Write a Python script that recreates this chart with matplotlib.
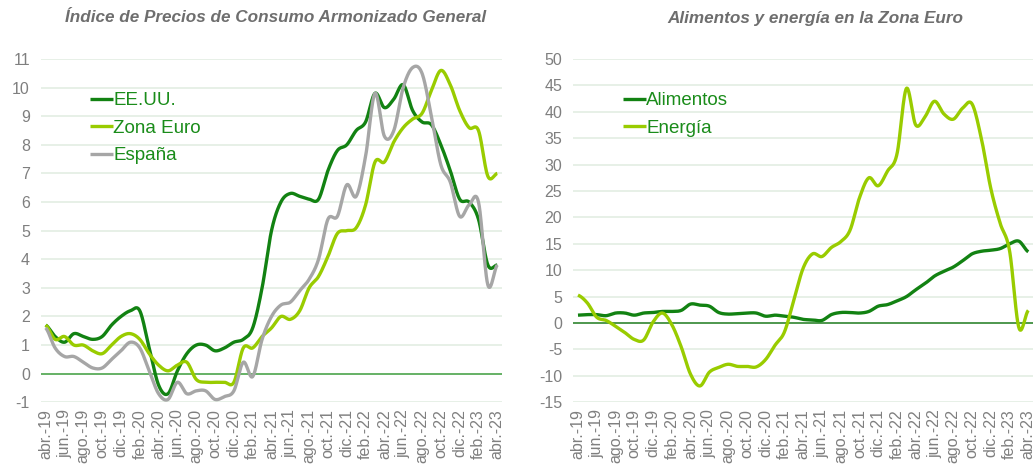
import numpy as np
import matplotlib
matplotlib.use("Agg")
import matplotlib.pyplot as plt
from matplotlib import font_manager

# ---------------- data ----------------
month_abbr = ["abr.", "may.", "jun.", "jul.", "ago.", "sep.", "oct.", "nov.", "dic.",
              "ene.", "feb.", "mar."]
months = []
_y, _m = 19, 0
for k in range(49):
    months.append(f"{month_abbr[_m]}-{_y}")
    _m += 1
    if _m == 9:   # after dic. comes ene. of next year
        _y += 1
    if _m == 12:
        _m = 0

eeuu = [1.7, 1.3, 1.1, 1.4, 1.3, 1.2, 1.3, 1.7, 2.0, 2.2, 2.2, 0.9, -0.4, -0.7, 0.1, 0.7,
        1.0, 1.0, 0.8, 0.9, 1.1, 1.2, 1.6, 3.0, 5.0, 6.0, 6.3, 6.2, 6.1, 6.1, 7.1, 7.8,
        8.0, 8.5, 8.8, 9.8, 9.3, 9.6, 10.1, 9.2, 8.8, 8.7, 8.0, 7.1, 6.1, 6.0, 5.4, 3.8, 3.8]
zona_euro = [1.7, 1.2, 1.3, 1.0, 1.0, 0.8, 0.7, 1.0, 1.3, 1.4, 1.2, 0.7, 0.3, 0.1, 0.3, 0.4,
             -0.2, -0.3, -0.3, -0.3, -0.3, 0.9, 0.9, 1.3, 1.6, 2.0, 1.9, 2.2, 3.0, 3.4, 4.1, 4.9,
             5.0, 5.1, 5.9, 7.4, 7.4, 8.1, 8.6, 8.9, 9.1, 9.9, 10.6, 10.1, 9.2, 8.6, 8.5, 6.9, 7.0]
espana = [1.6, 0.9, 0.6, 0.6, 0.4, 0.2, 0.2, 0.5, 0.8, 1.1, 0.9, 0.1, -0.7, -0.9, -0.3, -0.7,
          -0.6, -0.6, -0.9, -0.8, -0.6, 0.4, -0.1, 1.2, 2.0, 2.4, 2.5, 2.9, 3.3, 4.0, 5.4, 5.5,
          6.6, 6.2, 7.6, 9.8, 8.3, 8.5, 10.0, 10.7, 10.5, 9.0, 7.3, 6.7, 5.5, 5.9, 6.0, 3.1, 3.8]

alimentos = [1.5, 1.6, 1.6, 1.4, 1.9, 1.9, 1.5, 1.9, 2.0, 2.2, 2.2, 2.4, 3.6, 3.4, 3.2, 2.0,
             1.7, 1.8, 1.9, 1.9, 1.3, 1.5, 1.3, 1.1, 0.7, 0.6, 0.5, 1.6, 2.0, 2.0, 1.9, 2.2,
             3.2, 3.5, 4.2, 5.0, 6.3, 7.5, 8.9, 9.8, 10.6, 11.8, 13.1, 13.6, 13.8, 14.1, 15.0, 15.5, 13.5]
energia = [5.3, 3.8, 1.1, 0.5, -0.6, -1.8, -3.1, -3.2, 0.2, 1.9, -0.3, -4.5, -9.7, -11.9, -9.3, -8.4,
           -7.8, -8.2, -8.2, -8.3, -6.9, -4.2, -1.7, 4.3, 10.4, 13.1, 12.6, 14.3, 15.4, 17.6, 23.7, 27.5,
           26.0, 28.8, 32.0, 44.4, 37.5, 39.1, 42.0, 39.6, 38.6, 40.7, 41.5, 34.9, 25.5, 18.9, 13.7, -0.9, 2.4]

left_title = "Índice de Precios de Consumo Armonizado General"
right_title = "Alimentos y energía en la Zona Euro"

# ---------------- style ----------------
avail = {f.name for f in font_manager.fontManager.ttflist}
base_font = "Liberation Sans" if "Liberation Sans" in avail else "DejaVu Sans"
narrow = "Liberation Sans Narrow" in avail
title_font = "Liberation Sans Narrow" if narrow else base_font
title_size = 14 if narrow else 12.3
plt.rcParams['font.family'] = [base_font, 'DejaVu Sans']

DARK = "#128212"
LIGHT = "#99cc00"
GRAY = "#a6a6a6"
GRID = "#e3eee3"
TICK = "#7f7f7f"
LEGTXT = "#1a8c1a"


def smooth(vals, n=24):
    """Catmull-Rom smoothing (as in Excel smoothed lines), in data coordinates."""
    y = np.asarray(vals, float)
    N = len(y)
    p = np.concatenate([[y[0]], y, [y[-1]]])
    xs, ys = [], []
    t = np.linspace(0, 1, n, endpoint=False)
    for i in range(N - 1):
        p0, p1, p2, p3 = p[i], p[i + 1], p[i + 2], p[i + 3]
        m1 = (p2 - p0) / 2
        m2 = (p3 - p1) / 2
        h00 = 2 * t**3 - 3 * t**2 + 1
        h10 = t**3 - 2 * t**2 + t
        h01 = -2 * t**3 + 3 * t**2
        h11 = t**3 - t**2
        ys.append(h00 * p1 + h10 * m1 + h01 * p2 + h11 * m2)
        xs.append(i + t)
    xs.append([N - 1])
    ys.append([y[-1]])
    return np.concatenate(xs), np.concatenate(ys)


fig = plt.figure(figsize=(10.35, 4.69), dpi=100)
W, H = 1035, 469


def make_ax(x0, x1, y0, y1):
    return fig.add_axes([x0 / W, (H - y1) / H, (x1 - x0) / W, (y1 - y0) / H])


axL = make_ax(41, 502, 59, 402.3)
axR = make_ax(573.3, 1033, 59, 402.3)

n = len(months)
xt = list(range(0, n, 2))


def style(ax, ylim, yticks, zero_color):
    ax.set_xlim(-0.5, n - 0.5)
    ax.set_ylim(*ylim)
    ax.set_yticks(yticks)
    ax.set_yticklabels([str(v) for v in yticks])
    ax.set_xticks(xt)
    ax.set_xticklabels([months[i] for i in xt], rotation=90, va="top", ha="center")
    for s in ax.spines.values():
        s.set_visible(False)
    ax.tick_params(axis="both", length=0, colors=TICK, labelsize=11.5)
    ax.tick_params(axis="y", pad=8)
    ax.tick_params(axis="x", pad=5)
    for v in yticks:
        if v != 0:
            ax.axhline(v, color=GRID, lw=1.2, zorder=0)
    ax.axhline(0, color=zero_color, lw=1.1, zorder=1)


style(axL, (-1, 11), list(range(-1, 12)), "#3c9c3c")
style(axR, (-15, 50), list(range(-15, 51, 5)), "#1e7b1e")

lw = 2.4
for vals, col, lab in [(eeuu, DARK, "EE.UU."), (zona_euro, LIGHT, "Zona Euro"), (espana, GRAY, "España")]:
    xs, ys = smooth(vals)
    axL.plot(xs, ys, color=col, lw=lw, label=lab, solid_capstyle="butt", zorder=3)
for vals, col, lab in [(alimentos, DARK, "Alimentos"), (energia, LIGHT, "Energía")]:
    xs, ys = smooth(vals)
    axR.plot(xs, ys, color=col, lw=lw, label=lab, solid_capstyle="butt", zorder=3)

legkw = dict(frameon=False, loc="upper left", fontsize=13.5, handlelength=1.2,
             handletextpad=0.05, labelspacing=0.56, borderpad=0, borderaxespad=0,
             labelcolor=LEGTXT)
axL.legend(bbox_to_anchor=((90 - 41) / 461, (402.3 - 92) / 343.3), **legkw)
axR.legend(bbox_to_anchor=((623 - 573.3) / 459.7, (402.3 - 92) / 343.3), **legkw)

fig.text(276 / W, 1 - 18 / H, left_title, ha="center", va="center", fontsize=title_size,
         fontstyle="italic", fontweight="bold", color="#6e6e6e", family=[title_font, 'DejaVu Sans'])
fig.text(815 / W, 1 - 18 / H, right_title, ha="center", va="center", fontsize=title_size,
         fontstyle="italic", fontweight="bold", color="#6e6e6e", family=[title_font, 'DejaVu Sans'])

fig.savefig("out.png", dpi=100)
